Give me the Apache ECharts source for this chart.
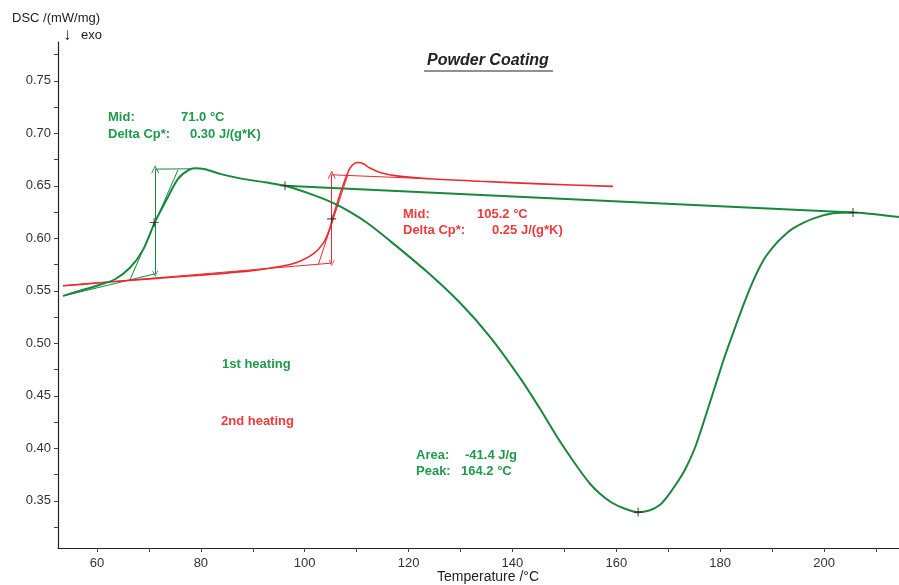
<!DOCTYPE html>
<html><head><meta charset="utf-8">
<script src="https://cdn.jsdelivr.net/npm/echarts@6/dist/echarts.min.js"></script>
<style>html,body{margin:0;padding:0;background:#fff}#c{width:899px;height:585px}</style>
</head><body><div id="c"></div>
<script>
// ---- data ----
const xTickLabels = [60, 80, 100, 120, 140, 160, 180, 200];
const xMinorTicks = [60, 70, 80, 90, 100, 110, 120, 130, 140, 150, 160, 170, 180, 190, 200, 210];
const yTickLabels = [0.35, 0.40, 0.45, 0.50, 0.55, 0.60, 0.65, 0.70, 0.75];
const yMinorTicks = [0.325, 0.35, 0.375, 0.40, 0.425, 0.45, 0.475, 0.50, 0.525, 0.55, 0.575, 0.60, 0.625, 0.65, 0.675, 0.70, 0.725, 0.75, 0.775];

// 1st heating (green)
const heat1T = [53.45, 56.73, 60.58, 63.47, 66.35, 68.86, 71.17, 73.48, 75.60, 77.52, 78.87, 80.80, 83.69, 87.54, 92.35, 96.20, 101.59, 105.44, 108.72, 111.99, 116.42, 123.55, 129.90, 135.68, 141.46, 145.31, 148.58, 152.62, 154.94, 156.87, 159.17, 161.67, 164.18, 166.49, 168.41, 169.95, 171.69, 173.23, 175.15, 177.08, 179.00, 180.93, 182.86, 184.78, 186.71, 188.63, 190.56, 192.49, 194.03, 197.88, 201.73, 205.58, 208.85, 214.44];
const heat1V = [0.5452, 0.5500, 0.5557, 0.5610, 0.5719, 0.5890, 0.6157, 0.6376, 0.6567, 0.6648, 0.6667, 0.6657, 0.6614, 0.6571, 0.6533, 0.6500, 0.6414, 0.6338, 0.6252, 0.6148, 0.5976, 0.5681, 0.5386, 0.5062, 0.4671, 0.4376, 0.4110, 0.3814, 0.3662, 0.3567, 0.3481, 0.3424, 0.3390, 0.3410, 0.3462, 0.3548, 0.3671, 0.3795, 0.4005, 0.4290, 0.4586, 0.4881, 0.5148, 0.5405, 0.5633, 0.5814, 0.5938, 0.6033, 0.6095, 0.6188, 0.6238, 0.6246, 0.6233, 0.6202];

// 2nd heating (red)
const heat2T = [53.45, 60.58, 70.21, 79.83, 89.46, 95.24, 98.46, 101.65, 103.58, 104.73, 105.39, 106.47, 107.76, 108.72, 109.68, 110.32, 111.28, 112.57, 114.50, 117.71, 124.12, 133.75, 145.31, 159.36];
const heat2V = [0.5548, 0.5576, 0.5614, 0.5648, 0.5690, 0.5731, 0.5770, 0.5852, 0.5954, 0.6081, 0.6192, 0.6367, 0.6557, 0.6669, 0.6716, 0.6722, 0.6710, 0.6669, 0.6627, 0.6595, 0.6567, 0.6543, 0.6519, 0.6495];

// glass transition evaluation, 1st heating
const g1BaseLow = [[53.45, 0.5450], [71.2, 0.5662]];
const g1Tangent = [[66.35, 0.5605], [75.60, 0.6652]];
const g1BaseHigh = [[71.2, 0.6659], [77.9, 0.6662]];
const g1Step = [[71.2, 0.5662], [71.2, 0.6659]];
// glass transition evaluation, 2nd heating
const g2BaseLow = [[53.45, 0.5548], [105.2, 0.5764]];
const g2Tangent = [[102.6, 0.5748], [108.3, 0.6605]];
const g2BaseHigh = [[105.2, 0.6605], [124.1, 0.6567]];
const g2Step = [[105.2, 0.5764], [105.2, 0.6605]];
// peak integration baseline
const peakBase = [[96.2, 0.6500], [205.58, 0.6246]];
// evaluation markers
const marks = [[71.0, 0.6150], [105.2, 0.6185], [96.2, 0.6500], [205.58, 0.6246], [164.2, 0.3392]];

const xMin = 52.49, xMax = 214.44, yMin = 0.305, yMax = 0.787;

// ---- chart ----
const GREEN = '#17883d', GREEN_T = '#1f9a4b', RED = '#ec2a2e', RED_T = '#ee3a3c';
const zip = (a, b) => a.map((t, i) => [t, b[i]]);
const chart = echarts.init(document.getElementById('c'), null, {renderer: 'canvas'});
const FONT = '"Liberation Sans", Arial, sans-serif';
const plus = 'path://M4.4,0 H5.6 V4.4 H10 V5.6 H5.6 V10 H4.4 V5.6 H0 V4.4 H4.4 Z';
const chev = 'path://M0,10 L5,0 L10,10 L8.8,10 L5,2.4 L1.2,10 Z';

function seg(data, color, w) {
  return {type: 'line', data, showSymbol: false, symbol: 'none', silent: true, animation: false,
    lineStyle: {color, width: w}, z: 2};
}
function arrow(coords, color) {
  return {type: 'lines', coordinateSystem: 'cartesian2d', silent: true, animation: false,
    symbol: [chev, chev], symbolSize: [6, 8],
    lineStyle: {color, width: 1, opacity: 1}, data: [{coords}], z: 2};
}
function txt(text, x, y, color, size, extra) {
  return {type: 'text', silent: true,
    style: {text, x, y, fill: color, font: (extra || '') + ' ' + size + 'px ' + FONT, textVerticalAlign: 'middle'}};
}

const option = {
  backgroundColor: '#fff',
  animation: false,
  grid: {left: 58, right: 0, top: 42, bottom: 37, containLabel: false},
  xAxis: {
    type: 'value', min: xMin, max: xMax,
    axisLine: {show: true, lineStyle: {color: '#222', width: 1.2}},
    axisTick: {show: true, customValues: xMinorTicks, length: 4, lineStyle: {color: '#444'}},
    axisLabel: {customValues: xTickLabels, color: '#333', fontSize: 13, fontFamily: FONT, margin: 9},
    splitLine: {show: false}
  },
  yAxis: {
    type: 'value', min: yMin, max: yMax,
    axisLine: {show: true, lineStyle: {color: '#222', width: 1.2}},
    axisTick: {show: true, customValues: yMinorTicks, length: 4, lineStyle: {color: '#444'}},
    axisLabel: {customValues: yTickLabels, color: '#333', fontSize: 13, fontFamily: FONT, margin: 7,
      formatter: v => v.toFixed(2)},
    splitLine: {show: false}
  },
  series: [
    seg(g1BaseLow, GREEN, 1), seg(g1Tangent, GREEN, 1), seg(g1BaseHigh, GREEN, 1),
    arrow(g1Step, GREEN),
    seg(g2BaseLow, RED, 1), seg(g2Tangent, RED, 1), seg(g2BaseHigh, RED, 1),
    arrow(g2Step, RED),
    seg(peakBase, GREEN, 2),
    Object.assign(seg(zip(heat2T, heat2V), RED, 1.6), {smooth: 0.3, z: 3}),
    Object.assign(seg(zip(heat1T, heat1V), GREEN, 2), {smooth: 0.3, z: 4}),
    {type: 'scatter', data: marks, symbol: plus, symbolSize: 9, silent: true, animation: false,
      itemStyle: {color: '#222'}, z: 5}
  ],
  graphic: [
    txt('DSC /(mW/mg)', 12, 18, '#222', 13),
    txt('↓', 63, 35, '#222', 17),
    txt('exo', 81, 35, '#222', 13),
    {type: 'text', silent: true, style: {text: 'Powder Coating', x: 488, y: 61, fill: '#222',
      font: 'italic bold 16px ' + FONT, textAlign: 'center', textVerticalAlign: 'middle'}},
    {type: 'line', silent: true, shape: {x1: 424, y1: 71, x2: 553, y2: 71}, style: {stroke: '#222', lineWidth: 1.2}},
    txt('Mid:', 108, 117, GREEN_T, 13, 'bold'),
    txt('71.0 °C', 181, 117, GREEN_T, 13, 'bold'),
    txt('Delta Cp*:', 108, 134, GREEN_T, 13, 'bold'),
    txt('0.30 J/(g*K)', 190, 134, GREEN_T, 13, 'bold'),
    txt('Mid:', 403, 214, RED_T, 13, 'bold'),
    txt('105.2 °C', 477, 214, RED_T, 13, 'bold'),
    txt('Delta Cp*:', 403, 230, RED_T, 13, 'bold'),
    txt('0.25 J/(g*K)', 492, 230, RED_T, 13, 'bold'),
    txt('1st heating', 222, 364, GREEN_T, 13, 'bold'),
    txt('2nd heating', 221, 421, RED_T, 13, 'bold'),
    txt('Area:', 416, 455, GREEN_T, 13, 'bold'),
    txt('-41.4 J/g', 465, 455, GREEN_T, 13, 'bold'),
    txt('Peak:', 416, 471, GREEN_T, 13, 'bold'),
    txt('164.2 °C', 461, 471, GREEN_T, 13, 'bold'),
    {type: 'text', silent: true, style: {text: 'Temperature /°C', x: 488, y: 577, fill: '#222',
      font: '14px ' + FONT, textAlign: 'center', textVerticalAlign: 'middle'}}
  ]
};
chart.setOption(option);
</script>
</body></html>
